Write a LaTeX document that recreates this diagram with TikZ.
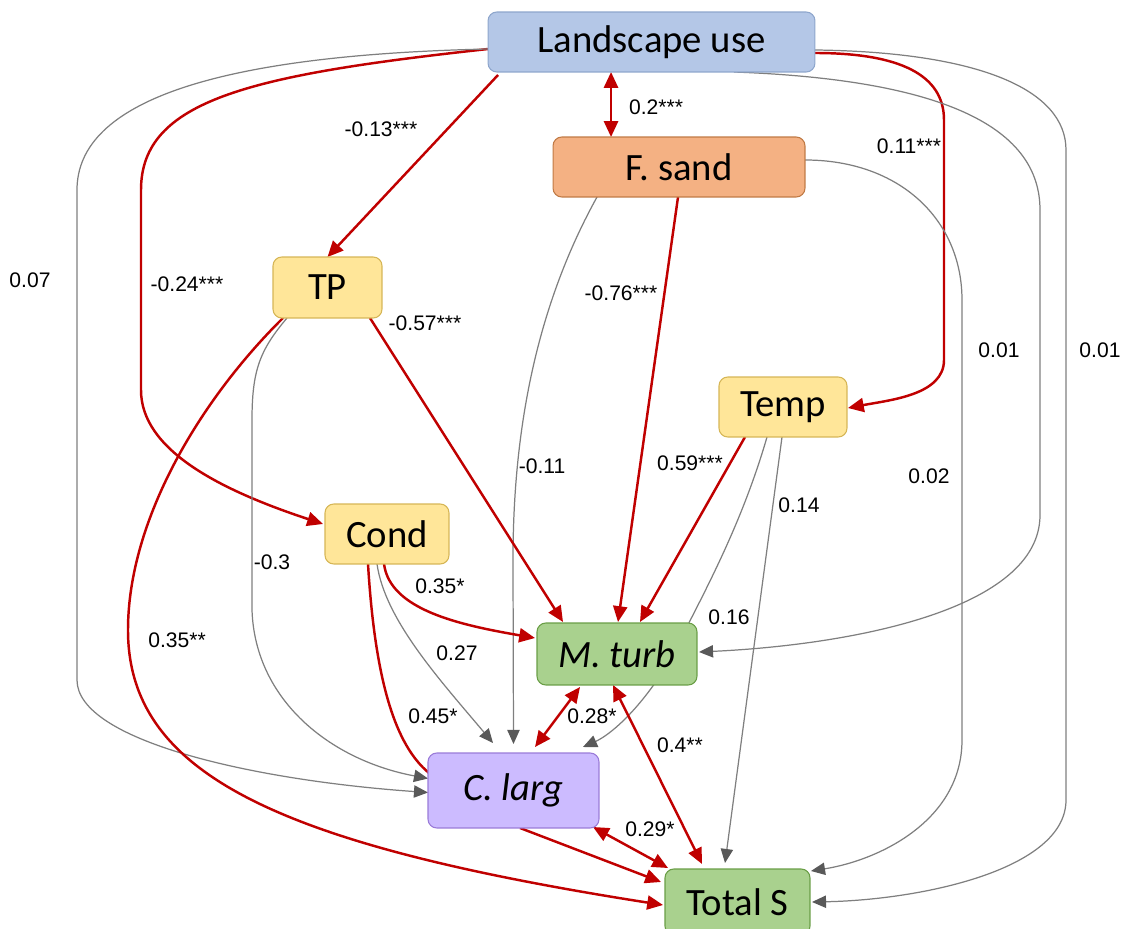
\documentclass[tikz,border=0pt]{standalone}
\usepackage{fontspec}
\setmainfont{Carlito}
\newfontfamily\lblfont{Liberation Sans}
\usepackage{xcolor}
\usepackage{tikz}
\usetikzlibrary{arrows.meta}
\usetikzlibrary{calc}
\usetikzlibrary{backgrounds}

\definecolor{sigred}{HTML}{C00000}
\definecolor{nsgrey}{HTML}{7F7F7F}
\definecolor{tipgrey}{HTML}{595959}
\definecolor{lublue}{HTML}{B4C7E7}
\definecolor{luedge}{HTML}{8EA6CC}
\definecolor{sandor}{HTML}{F4B183}
\definecolor{sandedge}{HTML}{C07A45}
\definecolor{envyel}{HTML}{FFE699}
\definecolor{envedge}{HTML}{D6B656}
\definecolor{sppgreen}{HTML}{A9D18E}
\definecolor{sppedge}{HTML}{6A9E46}
\definecolor{clpurple}{HTML}{CCBBFF}
\definecolor{cledge}{HTML}{9A7BD8}

\begin{document}
\begin{tikzpicture}[x=0.02cm, y=-0.02cm,
    box/.style={rectangle, rounded corners=5pt, line width=0.6pt, inner sep=0pt, outer sep=0pt,
                font=\fontsize{22}{26}\selectfont},
    envbox/.style={box, fill=envyel, draw=envedge},
    sppbox/.style={box, fill=sppgreen, draw=sppedge},
    lbl/.style={font=\lblfont\fontsize{12}{14}\selectfont, inner sep=1pt},
    sig/.style={draw=sigred, line width=1.4pt, -{Triangle[length=9pt,width=8pt]}},
    sigboth/.style={draw=sigred, line width=1.4pt, {Triangle[length=9pt,width=8pt]}-{Triangle[length=9pt,width=8pt]}},
    ns/.style={draw=nsgrey, line width=0.7pt, -{Triangle[length=8pt,width=7pt,color=tipgrey]}}]
  \useasboundingbox (0,0) rectangle (1127,929);

  \node[box, fill=lublue, draw=luedge, minimum width=6.54cm, minimum height=1.2cm] (lu) at (651.5,42) {Landscape use};
  \node[box, fill=sandor, draw=sandedge, minimum width=5.04cm, minimum height=1.2cm] (fs) at (679,167) {F. sand};
  \node[envbox, minimum width=2.18cm, minimum height=1.22cm] (tp) at (327.5,287.5) {TP};
  \node[envbox, minimum width=2.56cm, minimum height=1.2cm] (tmp) at (783,407) {Temp};
  \node[envbox, minimum width=2.48cm, minimum height=1.2cm] (cond) at (387,534) {Cond};
  \node[sppbox, minimum width=3.2cm, minimum height=1.24cm] (mt) at (617,654) {\itshape M. turb};
  \node[box, fill=clpurple, draw=cledge, minimum width=3.42cm, minimum height=1.5cm] (cl) at (513.5,790.5) {\itshape C. larg};
  \node[sppbox, minimum width=2.9cm, minimum height=1.32cm] (ts) at (737.5,902) {Total S};

  \begin{pgfonlayer}{background}
    % landscape use
    \draw[sig] ($(lu.south west)+(10,3)$) -- (tp.north);
    \path (fs.north west) ++(58,0) coordinate (fsn);
    \draw[sigboth] (lu.south -| fsn) -- (fsn);
    \draw[sig] ($(lu.west)+(0,7)$) .. controls (250,75) and (141,100) .. (141,190)
      -- (141,390) .. controls (141,450) and (220,490) .. ($(cond.west)+(-2,-10)$);
    \draw[ns] ($(lu.west)+(0,7)$) .. controls (220,55) and (77,100) .. (77,190)
      -- (77,680) .. controls (77,740) and (250,780) .. ($(cl.west)+(0,2)$);
    \draw[sig] ($(lu.east)+(0,11)$) .. controls (900,53) and (944,75) .. (944,120)
      -- (944,360) .. controls (944,395) and (890,400) .. ($(tmp.east)+(1,1)$);
    \draw[ns] ($(lu.east)+(0,8)$) .. controls (980,52) and (1066,90) .. (1066,150)
      -- (1066,800) .. controls (1066,870) and (920,900) .. ($(ts.east)+(2,0)$);
    \draw[ns] ($(lu.south east)+(-81,0)$) .. controls (950,80) and (1040,130) .. (1040,210)
      -- (1040,515) .. controls (1040,610) and (850,645) .. ($(mt.east)+(2,-2)$);
    % F. sand
    \draw[ns] ($(fs.east)+(0,-7)$) .. controls (900,160) and (962,220) .. (962,300)
      -- (962,740) .. controls (962,820) and (880,860) .. ($(ts.north east)+(1,2)$);
    \draw[sig] ($(fs.south west)+(125,0)$) -- ($(mt.north)+(1,-1)$);
    \draw[ns] ($(fs.south west)+(44,0)$) .. controls (540,300) and (513,420) .. (513,560)
      -- ($(cl.north)+(0,-9)$);
    % TP
    \draw[sig] ($(tp.south east)+(-12,0)$) -- ($(mt.north west)+(26,-1)$);
    \draw[ns] ($(tp.south west)+(14,0)$) .. controls (260,350) and (252,370) .. (252,420)
      -- (252,610) .. controls (255,700) and (330,760) .. ($(cl.west)+(0,-12)$);
    \draw[sig] ($(tp.south west)+(10,0)$) .. controls (200,400) and (128,520) .. (128,630)
      .. controls (128,775) and (280,845) .. ($(ts.west)+(-2,3)$);
    % Temp
    \draw[sig] ($(tmp.south west)+(26,0)$) -- ($(mt.north)+(23,-1)$);
    \draw[ns] ($(tmp.south west)+(48,0)$) .. controls (740,530) and (700,600) .. (670,660)
      .. controls (640,710) and (610,735) .. ($(cl.north east)+(-16,-6)$);
    \draw[ns] ($(tmp.south west)+(63,0)$) -- ($(ts.north west)+(60,-6)$);
    % Cond
    \draw[sig] ($(cond.south west)+(59,0)$) .. controls (390,610) and (460,625) .. ($(mt.west)+(-2,-16)$);
    \draw[draw=sigred, line width=1.4pt] ($(cond.south west)+(43,0)$) .. controls (375,680) and (395,745) .. ($(cl.north west)+(1,20)$);
    \draw[ns] ($(cond.south west)+(52,0)$) .. controls (385,620) and (440,680) .. ($(cl.north west)+(65,-10)$);
    % species
    \draw[sigboth] ($(mt.south west)+(43,2)$) -- ($(cl.north west)+(107,-6)$);
    \draw[sigboth] ($(mt.south west)+(76,0)$) -- ($(ts.north west)+(37,-5)$);
    \draw[sig] ($(cl.south west)+(92,0)$) -- ($(ts.west)+(-4,-20)$);
    \draw[sigboth] ($(cl.south east)+(-6,-1)$) -- ($(ts.north west)+(3,-1)$);
  \end{pgfonlayer}

  \node[lbl] (w_lu_tp)   at (381,129) {-0.13***};
  \node[lbl] (w_lu_fs)   at (656,107) {0.2***};
  \node[lbl] (w_lu_tmp)  at (909,146) {0.11***};
  \node[lbl] (w_lu_cl)   at (30,280)  {0.07};
  \node[lbl] (w_lu_cond) at (187,284) {-0.24***};
  \node[lbl] (w_tp_mt)   at (425,323) {-0.57***};
  \node[lbl] (w_fs_mt)   at (621,293) {-0.76***};
  \node[lbl] (w_lu_mt)   at (999,350) {0.01};
  \node[lbl] (w_lu_ts)   at (1100,350) {0.01};
  \node[lbl] (w_fs_cl)   at (542,466) {-0.11};
  \node[lbl] (w_tmp_mt)  at (690,463) {0.59***};
  \node[lbl] (w_fs_ts)   at (929,476) {0.02};
  \node[lbl] (w_tmp_ts)  at (799,505) {0.14};
  \node[lbl] (w_tp_cl)   at (272,562) {-0.3};
  \node[lbl] (w_cond_mt) at (440,586) {0.35*};
  \node[lbl] (w_tmp_cl)  at (729,617) {0.16};
  \node[lbl] (w_tp_ts)   at (177,640) {0.35**};
  \node[lbl] (w_cond_cl) at (457,653) {0.27};
  \node[lbl] (w_cond_c2) at (433,716) {0.45*};
  \node[lbl] (w_mt_cl)   at (592,716) {0.28*};
  \node[lbl] (w_mt_ts)   at (680,745) {0.4**};
  \node[lbl] (w_cl_ts)   at (650,829) {0.29*};
\end{tikzpicture}
\end{document}
